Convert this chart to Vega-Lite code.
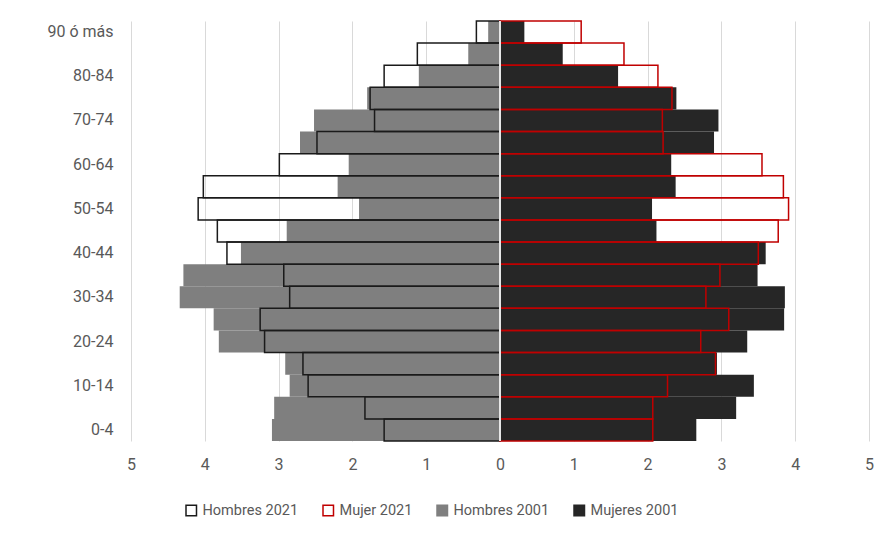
{
  "$schema": "https://vega.github.io/schema/vega-lite/v6.json",
  "padding": {"left": 46, "top": 20, "right": 5, "bottom": 5},
  "background": "white",
  "bounds": "flush",
  "config": {
    "view": {"stroke": null},
    "font": "Roboto",
    "axis": {"labelColor": "#595959", "labelFontSize": 16, "gridColor": "#d9d9d9", "domain": false, "ticks": false, "title": null, "labelFlush": false},
    "legend": {"labelColor": "#595959", "labelFontSize": 14.5, "symbolType": "square", "symbolSize": 110, "symbolStrokeWidth": 1.5, "columnPadding": 21, "labelOffset": 4}
  },
  "data": {
    "values": [
      {"edad": "90 ó más", "sexo": "Hombres", "serie": "Hombres 2021", "valor": 0.32},
      {"edad": "85-89", "sexo": "Hombres", "serie": "Hombres 2021", "valor": 1.12},
      {"edad": "80-84", "sexo": "Hombres", "serie": "Hombres 2021", "valor": 1.57},
      {"edad": "75-79", "sexo": "Hombres", "serie": "Hombres 2021", "valor": 1.76},
      {"edad": "70-74", "sexo": "Hombres", "serie": "Hombres 2021", "valor": 1.70},
      {"edad": "65-69", "sexo": "Hombres", "serie": "Hombres 2021", "valor": 2.48},
      {"edad": "60-64", "sexo": "Hombres", "serie": "Hombres 2021", "valor": 2.99},
      {"edad": "55-59", "sexo": "Hombres", "serie": "Hombres 2021", "valor": 4.02},
      {"edad": "50-54", "sexo": "Hombres", "serie": "Hombres 2021", "valor": 4.09},
      {"edad": "45-49", "sexo": "Hombres", "serie": "Hombres 2021", "valor": 3.83},
      {"edad": "40-44", "sexo": "Hombres", "serie": "Hombres 2021", "valor": 3.70},
      {"edad": "35-39", "sexo": "Hombres", "serie": "Hombres 2021", "valor": 2.93},
      {"edad": "30-34", "sexo": "Hombres", "serie": "Hombres 2021", "valor": 2.85},
      {"edad": "25-29", "sexo": "Hombres", "serie": "Hombres 2021", "valor": 3.25},
      {"edad": "20-24", "sexo": "Hombres", "serie": "Hombres 2021", "valor": 3.19},
      {"edad": "15-19", "sexo": "Hombres", "serie": "Hombres 2021", "valor": 2.67},
      {"edad": "10-14", "sexo": "Hombres", "serie": "Hombres 2021", "valor": 2.60},
      {"edad": "5-9", "sexo": "Hombres", "serie": "Hombres 2021", "valor": 1.83},
      {"edad": "0-4", "sexo": "Hombres", "serie": "Hombres 2021", "valor": 1.57},
      {"edad": "90 ó más", "sexo": "Hombres", "serie": "Hombres 2001", "valor": 0.16},
      {"edad": "85-89", "sexo": "Hombres", "serie": "Hombres 2001", "valor": 0.43},
      {"edad": "80-84", "sexo": "Hombres", "serie": "Hombres 2001", "valor": 1.10},
      {"edad": "75-79", "sexo": "Hombres", "serie": "Hombres 2001", "valor": 1.80},
      {"edad": "70-74", "sexo": "Hombres", "serie": "Hombres 2001", "valor": 2.52},
      {"edad": "65-69", "sexo": "Hombres", "serie": "Hombres 2001", "valor": 2.71},
      {"edad": "60-64", "sexo": "Hombres", "serie": "Hombres 2001", "valor": 2.05},
      {"edad": "55-59", "sexo": "Hombres", "serie": "Hombres 2001", "valor": 2.20},
      {"edad": "50-54", "sexo": "Hombres", "serie": "Hombres 2001", "valor": 1.91},
      {"edad": "45-49", "sexo": "Hombres", "serie": "Hombres 2001", "valor": 2.89},
      {"edad": "40-44", "sexo": "Hombres", "serie": "Hombres 2001", "valor": 3.51},
      {"edad": "35-39", "sexo": "Hombres", "serie": "Hombres 2001", "valor": 4.29},
      {"edad": "30-34", "sexo": "Hombres", "serie": "Hombres 2001", "valor": 4.34},
      {"edad": "25-29", "sexo": "Hombres", "serie": "Hombres 2001", "valor": 3.88},
      {"edad": "20-24", "sexo": "Hombres", "serie": "Hombres 2001", "valor": 3.81},
      {"edad": "15-19", "sexo": "Hombres", "serie": "Hombres 2001", "valor": 2.91},
      {"edad": "10-14", "sexo": "Hombres", "serie": "Hombres 2001", "valor": 2.85},
      {"edad": "5-9", "sexo": "Hombres", "serie": "Hombres 2001", "valor": 3.06},
      {"edad": "0-4", "sexo": "Hombres", "serie": "Hombres 2001", "valor": 3.09},
      {"edad": "90 ó más", "sexo": "Mujeres", "serie": "Mujer 2021", "valor": 1.10},
      {"edad": "85-89", "sexo": "Mujeres", "serie": "Mujer 2021", "valor": 1.68},
      {"edad": "80-84", "sexo": "Mujeres", "serie": "Mujer 2021", "valor": 2.14},
      {"edad": "75-79", "sexo": "Mujeres", "serie": "Mujer 2021", "valor": 2.33},
      {"edad": "70-74", "sexo": "Mujeres", "serie": "Mujer 2021", "valor": 2.20},
      {"edad": "65-69", "sexo": "Mujeres", "serie": "Mujer 2021", "valor": 2.21},
      {"edad": "60-64", "sexo": "Mujeres", "serie": "Mujer 2021", "valor": 3.55},
      {"edad": "55-59", "sexo": "Mujeres", "serie": "Mujer 2021", "valor": 3.84},
      {"edad": "50-54", "sexo": "Mujeres", "serie": "Mujer 2021", "valor": 3.91},
      {"edad": "45-49", "sexo": "Mujeres", "serie": "Mujer 2021", "valor": 3.77},
      {"edad": "40-44", "sexo": "Mujeres", "serie": "Mujer 2021", "valor": 3.50},
      {"edad": "35-39", "sexo": "Mujeres", "serie": "Mujer 2021", "valor": 2.98},
      {"edad": "30-34", "sexo": "Mujeres", "serie": "Mujer 2021", "valor": 2.79},
      {"edad": "25-29", "sexo": "Mujeres", "serie": "Mujer 2021", "valor": 3.10},
      {"edad": "20-24", "sexo": "Mujeres", "serie": "Mujer 2021", "valor": 2.72},
      {"edad": "15-19", "sexo": "Mujeres", "serie": "Mujer 2021", "valor": 2.92},
      {"edad": "10-14", "sexo": "Mujeres", "serie": "Mujer 2021", "valor": 2.27},
      {"edad": "5-9", "sexo": "Mujeres", "serie": "Mujer 2021", "valor": 2.07},
      {"edad": "0-4", "sexo": "Mujeres", "serie": "Mujer 2021", "valor": 2.07},
      {"edad": "90 ó más", "sexo": "Mujeres", "serie": "Mujeres 2001", "valor": 0.33},
      {"edad": "85-89", "sexo": "Mujeres", "serie": "Mujeres 2001", "valor": 0.85},
      {"edad": "80-84", "sexo": "Mujeres", "serie": "Mujeres 2001", "valor": 1.60},
      {"edad": "75-79", "sexo": "Mujeres", "serie": "Mujeres 2001", "valor": 2.39},
      {"edad": "70-74", "sexo": "Mujeres", "serie": "Mujeres 2001", "valor": 2.96},
      {"edad": "65-69", "sexo": "Mujeres", "serie": "Mujeres 2001", "valor": 2.90},
      {"edad": "60-64", "sexo": "Mujeres", "serie": "Mujeres 2001", "valor": 2.32},
      {"edad": "55-59", "sexo": "Mujeres", "serie": "Mujeres 2001", "valor": 2.38},
      {"edad": "50-54", "sexo": "Mujeres", "serie": "Mujeres 2001", "valor": 2.06},
      {"edad": "45-49", "sexo": "Mujeres", "serie": "Mujeres 2001", "valor": 2.12},
      {"edad": "40-44", "sexo": "Mujeres", "serie": "Mujeres 2001", "valor": 3.60},
      {"edad": "35-39", "sexo": "Mujeres", "serie": "Mujeres 2001", "valor": 3.49},
      {"edad": "30-34", "sexo": "Mujeres", "serie": "Mujeres 2001", "valor": 3.86},
      {"edad": "25-29", "sexo": "Mujeres", "serie": "Mujeres 2001", "valor": 3.85},
      {"edad": "20-24", "sexo": "Mujeres", "serie": "Mujeres 2001", "valor": 3.35},
      {"edad": "15-19", "sexo": "Mujeres", "serie": "Mujeres 2001", "valor": 2.94},
      {"edad": "10-14", "sexo": "Mujeres", "serie": "Mujeres 2001", "valor": 3.44},
      {"edad": "5-9", "sexo": "Mujeres", "serie": "Mujeres 2001", "valor": 3.20},
      {"edad": "0-4", "sexo": "Mujeres", "serie": "Mujeres 2001", "valor": 2.66}
    ]
  },
  "spacing": 0,
  "hconcat": [
    {
      "width": 369,
      "height": 420,
      "transform": [{"filter": "datum.sexo === 'Hombres'"}],
      "encoding": {
        "y": {
          "field": "edad", "type": "nominal",
          "sort": ["90 ó más","85-89","80-84","75-79","70-74","65-69","60-64","55-59","50-54","45-49","40-44","35-39","30-34","25-29","20-24","15-19","10-14","5-9","0-4"],
          "scale": {"paddingInner": 0, "paddingOuter": 0},
          "axis": {"values": ["90 ó más","80-84","70-74","60-64","50-54","40-44","30-34","20-24","10-14","0-4"], "labelPadding": 18}
        },
        "x": {
          "field": "valor", "type": "quantitative",
          "scale": {"domain": [0, 5], "reverse": true, "nice": false},
          "axis": {"values": [0, 1, 2, 3, 4, 5], "labelPadding": 15, "grid": true}
        },
        "fill": {
          "field": "serie", "type": "nominal",
          "scale": {"domain": ["Hombres 2021", "Mujer 2021", "Hombres 2001", "Mujeres 2001"], "range": ["transparent", "transparent", "#7f7f7f", "#262626"]},
          "legend": {"title": null, "orient": "none", "direction": "horizontal", "legendX": 53, "legendY": 482}
        },
        "stroke": {
          "field": "serie", "type": "nominal",
          "scale": {"domain": ["Hombres 2021", "Mujer 2021", "Hombres 2001", "Mujeres 2001"], "range": ["#1a1a1a", "#c00000", "#7f7f7f", "#262626"]},
          "legend": {"title": null, "orient": "none", "direction": "horizontal", "legendX": 53, "legendY": 482}
        }
      },
      "layer": [
        {"transform": [{"filter": "datum.serie === 'Hombres 2001'"}], "mark": {"type": "bar", "strokeWidth": 0}},
        {"transform": [{"filter": "datum.serie === 'Hombres 2021'"}], "mark": {"type": "bar", "strokeWidth": 1.5}}
      ]
    },
    {
      "width": 369,
      "height": 420,
      "transform": [{"filter": "datum.sexo === 'Mujeres'"}],
      "encoding": {
        "y": {
          "field": "edad", "type": "nominal",
          "sort": ["90 ó más","85-89","80-84","75-79","70-74","65-69","60-64","55-59","50-54","45-49","40-44","35-39","30-34","25-29","20-24","15-19","10-14","5-9","0-4"],
          "scale": {"paddingInner": 0, "paddingOuter": 0},
          "axis": null
        },
        "x": {
          "field": "valor", "type": "quantitative",
          "scale": {"domain": [0, 5], "nice": false},
          "axis": {"values": [1, 2, 3, 4, 5], "labelPadding": 15, "grid": true}
        }
      },
      "layer": [
        {
          "transform": [{"filter": "datum.serie === 'Mujeres 2001'"}],
          "mark": {"type": "bar", "strokeWidth": 0},
          "encoding": {"fill": {"field": "serie", "type": "nominal"}, "stroke": {"field": "serie", "type": "nominal"}}
        },
        {
          "transform": [{"filter": "datum.serie === 'Mujer 2021'"}],
          "mark": {"type": "bar", "strokeWidth": 1.5},
          "encoding": {"fill": {"field": "serie", "type": "nominal"}, "stroke": {"field": "serie", "type": "nominal"}}
        },
        {
          "mark": {"type": "rule", "color": "#e6e6e6", "strokeWidth": 1.5},
          "encoding": {"x": {"datum": 0}, "y": null}
        }
      ]
    }
  ]
}
